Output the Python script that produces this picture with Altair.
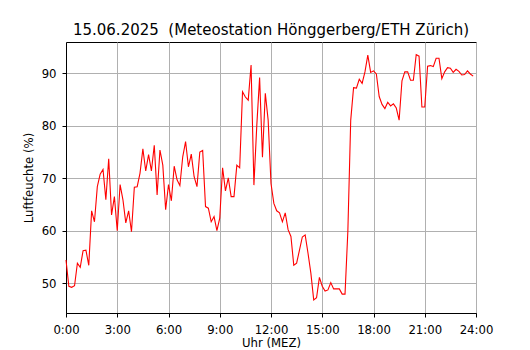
import altair as alt
import pandas as pd

title_text = "15.06.2025 \u00a0(Meteostation Hönggerberg/ETH Zürich)"
x_label = "Uhr (MEZ)"
y_label = "Luftfeuchte (%)"
x_ticks = [0, 3, 6, 9, 12, 15, 18, 21, 24]
y_ticks = [50, 60, 70, 80, 90]

# relative humidity, one value every 10 minutes from 0:00 to 23:50
humidity = [
    54.4, 49.4, 49.2, 49.5, 53.8, 53.0, 56.2, 56.3, 53.4, 63.8,
    61.7, 68.4, 70.8, 71.7, 65.9, 73.7, 63.0, 66.5, 60.0, 68.8,
    65.9, 61.5, 63.8, 59.8, 68.3, 68.4, 71.0, 75.6, 71.4, 74.5,
    71.4, 76.3, 66.8, 75.4, 72.5, 64.0, 68.8, 65.7, 72.3, 69.7,
    68.6, 74.1, 77.0, 72.2, 74.6, 70.3, 68.4, 75.0, 75.3, 64.6,
    64.3, 61.7, 62.7, 60.0, 62.4, 72.0, 67.6, 70.1, 66.5, 66.5,
    72.5, 72.0, 86.5, 85.5, 84.9, 91.6, 68.7, 80.0, 89.2, 74.0,
    86.2, 81.1, 69.0, 65.2, 63.8, 63.4, 61.7, 63.4, 60.2, 58.9,
    53.4, 53.8, 56.3, 58.8, 59.2, 55.7, 51.9, 46.8, 47.2, 51.1,
    49.4, 48.5, 48.7, 50.1, 48.9, 48.9, 48.9, 47.9, 47.9, 60.0,
    81.1, 87.3, 87.2, 88.9, 88.1, 90.3, 93.5, 90.2, 90.5, 89.9,
    85.6, 84.1, 83.3, 84.5, 83.8, 84.2, 83.4, 81.1, 88.6, 90.3,
    90.3, 88.7, 88.7, 93.6, 93.3, 83.6, 83.6, 91.4, 91.5, 91.3,
    92.9, 92.9, 89.0, 90.3, 91.1, 91.0, 90.2, 90.8, 90.4, 89.7,
    89.8, 90.5, 89.9, 89.5,
]
hours = [i * 10 / 60 for i in range(len(humidity))]

df = pd.DataFrame({"h": hours, "rh": humidity})

FONT = "DejaVu Sans"

common_axis = dict(
    grid=True,
    gridColor="#b0b0b0",
    gridWidth=1,
    domainColor="black",
    tickColor="black",
    tickSize=4,
    labelFlush=False,
    labelOverlap=False,
    labelFontSize=11.7,
    titleFontSize=11.7,
    titleFontWeight="normal",
    labelColor="black",
    titleColor="black",
    labelFont=FONT,
    titleFont=FONT,
)

chart = (
    alt.Chart(df)
    .mark_line(color="#ff0000", strokeWidth=1.1)
    .encode(
        x=alt.X(
            "h:Q",
            scale=alt.Scale(domain=[0, 24], nice=False, zero=False),
            axis=alt.Axis(
                title=x_label,
                values=x_ticks,
                labelExpr="datum.value + ':00'",
                labelPadding=7,
                titlePadding=2,
                **common_axis,
            ),
        ),
        y=alt.Y(
            "rh:Q",
            scale=alt.Scale(domain=[44.3, 96.0], nice=False, zero=False),
            axis=alt.Axis(
                title=y_label,
                values=y_ticks,
                labelPadding=6,
                titlePadding=7,
                **common_axis,
            ),
        ),
    )
    .properties(
        width=410,
        height=271,
        title=alt.TitleParams(
            text=title_text,
            fontSize=15,
            font=FONT,
            fontWeight="normal",
            color="black",
            anchor="middle",
            offset=4,
        ),
        autosize=alt.AutoSizeParams(type="none"),
        padding={"left": 58, "top": 34, "right": 45, "bottom": 45},
    )
    .configure_view(stroke="black", strokeWidth=1)
)

chart.save("out.html", embed_options={"renderer": "svg", "actions": False})
